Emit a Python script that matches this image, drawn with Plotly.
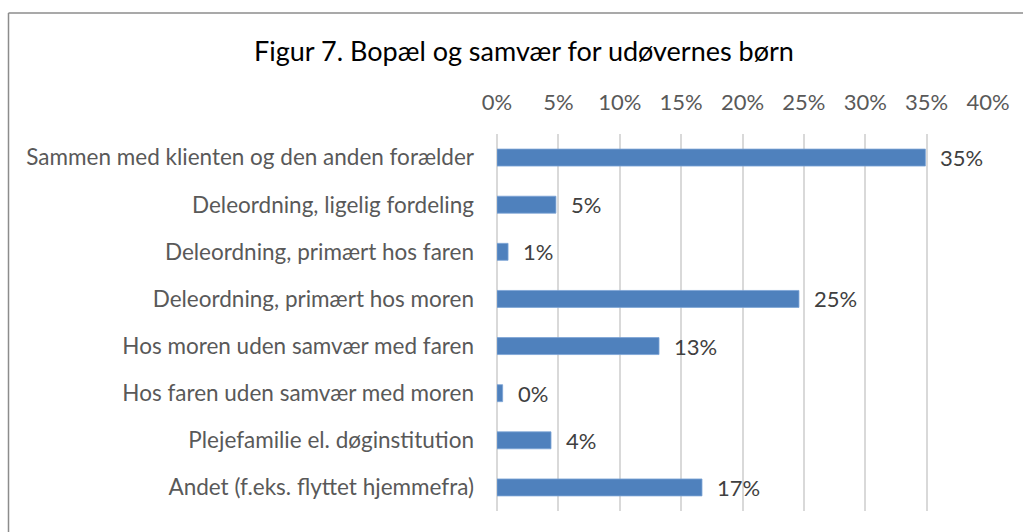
import plotly.graph_objects as go

categories = [
    "Sammen med klienten og den anden forælder",
    "Deleordning, ligelig fordeling",
    "Deleordning, primært hos faren",
    "Deleordning, primært hos moren",
    "Hos moren uden samvær med faren",
    "Hos faren uden samvær med moren",
    "Plejefamilie el. døginstitution",
    "Andet (f.eks. flyttet hjemmefra)",
]
values = [34.9, 4.8, 0.9, 24.6, 13.2, 0.46, 4.4, 16.7]
tick_vals = [0, 5, 10, 15, 20, 25, 30, 35, 40]
tick_text = ["0%", "5%", "10%", "15%", "20%", "25%", "30%", "35%", "40%"]

W, H = 1023, 532
ML, MR, MT, MB = 497, 35, 134, 21
FONT = "Lato"
FS = 22.5

fig = go.Figure()
fig.add_trace(go.Bar(
    x=values, y=categories, orientation="h",
    marker=dict(color="#4F81BD", line=dict(color="#7BA3D6", width=0.8)),
    width=0.36, hoverinfo="skip",
))

for v, c in zip(values, categories):
    fig.add_annotation(x=v, y=c, xref="x", yref="y", text=f"{v:.0f}%",
                       showarrow=False, xanchor="left", xshift=13,
                       font=dict(family=FONT, size=22, color="#404040"))

pw = W - ML - MR
ph = H - MT - MB
bx = (8.5 - ML) / pw
by = 1 + (MT - 13) / ph
fig.add_shape(type="line", xref="paper", yref="paper", x0=bx, x1=(W + 5 - ML) / pw,
              y0=by, y1=by, line=dict(color="#8c8c8c", width=1.5))
fig.add_shape(type="line", xref="paper", yref="paper", x0=bx, x1=bx,
              y0=by, y1=-1, line=dict(color="#8c8c8c", width=1.5))

fig.update_layout(
    width=W, height=H,
    margin=dict(l=ML, r=MR, t=MT, b=MB),
    paper_bgcolor="white", plot_bgcolor="white",
    showlegend=False,
    title=dict(text="Figur 7. Bopæl og samvær for udøvernes børn",
               x=524 / W, xanchor="center", xref="container",
               y=1 - 52 / H, yanchor="middle", yref="container",
               font=dict(family=FONT, size=27, color="#000000")),
    xaxis=dict(side="top", range=[0, 40], tickvals=tick_vals, ticktext=tick_text,
               showgrid=True, gridcolor="#d9d9d9", gridwidth=2,
               zeroline=True, zerolinecolor="#d9d9d9", zerolinewidth=2,
               showline=False, ticks="", ticklabelstandoff=19,
               tickfont=dict(family=FONT, size=22, color="#595959"), fixedrange=True),
    yaxis=dict(autorange="reversed", showgrid=False, zeroline=False, showline=False,
               ticks="", ticklabelstandoff=22,
               tickfont=dict(family=FONT, size=FS, color="#595959"), fixedrange=True),
)

fig.write_html("out.html", config={"displayModeBar": False},
               post_script="document.body.style.margin='0px';")
